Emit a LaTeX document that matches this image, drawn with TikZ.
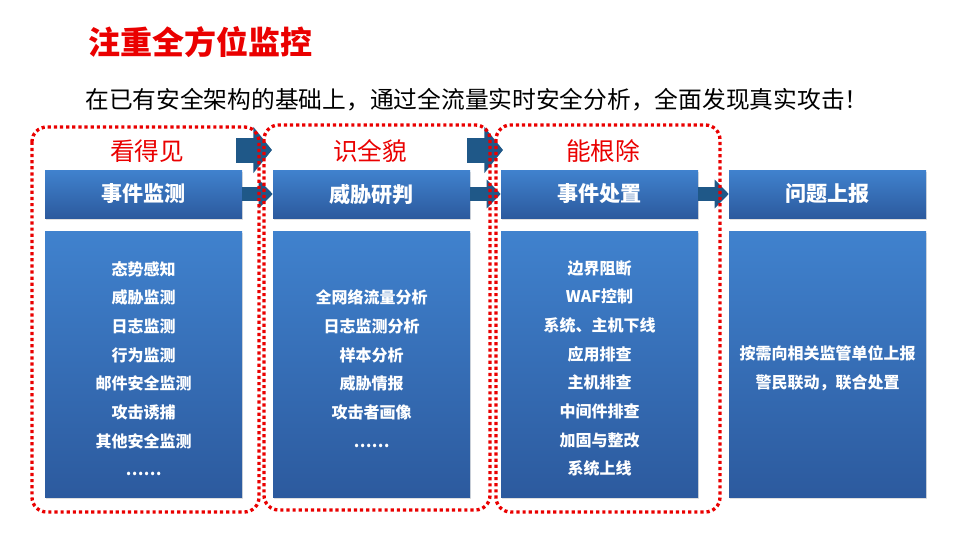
\documentclass[tikz,border=0pt]{standalone}
\usepackage{fontspec}
\newfontfamily\cjk{Noto Sans CJK SC}
\usetikzlibrary{arrows.meta,shadows}
\definecolor{hongse}{RGB}{234,0,0}
\definecolor{kuangding}{RGB}{64,130,206}
\definecolor{kuangdi}{RGB}{44,90,158}
\definecolor{jiantou}{RGB}{31,88,136}
\tikzset{
  biaotou/.style={top color=kuangding, bottom color=kuangdi, minimum width=147.75pt, minimum height=36pt,
    inner sep=0pt, text=white, font=\cjk\bfseries\fontsize{15.8}{18}\selectfont,
    drop shadow={opacity=0.25, shadow xshift=0.8pt, shadow yshift=-1.2pt}},
  neirong/.style={top color=kuangding, bottom color=kuangdi, minimum width=147.75pt, minimum height=199.5pt,
    inner sep=0pt, drop shadow={opacity=0.25, shadow xshift=0.8pt, shadow yshift=-1.2pt}},
  hangwen/.style={text=white, align=center, inner sep=0pt, font=\cjk\bfseries\fontsize{12}{21.5}\selectfont},
  jieduan/.style={text=hongse, inner sep=0pt, font=\cjk\fontsize{18.5}{20}\selectfont},
  xukuang/.style={draw=hongse, line width=2.5pt, dash pattern=on 2.4pt off 2.2pt, rounded corners=11pt},
  dajiantou/.style={draw=jiantou, line width=18.75pt, -{Triangle[length=14pt,width=34pt]}},
  xiaojiantou/.style={draw=jiantou, line width=11pt, -{Triangle[length=10.5pt,width=21pt]}}
}
\begin{document}
\begin{tikzpicture}[x=0.75pt, y=-0.75pt]
  \useasboundingbox[fill=white] (0,0) rectangle (960,540);

  % 标题与说明
  \node[anchor=west, inner sep=0pt, text=hongse, font=\cjk\bfseries\fontsize{24}{26}\selectfont] (biaoti) at (88,42) {注重全方位监控};
  \node[anchor=west, inner sep=0pt, font=\cjk\fontsize{17.8}{20}\selectfont] (shuoming) at (85,100)
    {在已有安全架构的基础上，通过全流量实时安全分析，全面发现真实攻击！};

  % 四个环节的标题框
  \node[biaotou] (h1) at (143.5,194) {事件监测};
  \node[biaotou] (h2) at (371.5,194) {威胁研判};
  \node[biaotou] (h3) at (599.5,194) {事件处置};
  \node[biaotou] (h4) at (827.5,194) {问题上报};

  % 内容框
  \node[neirong] (n1) at (143.5,364) {};
  \node[neirong] (n2) at (371.5,364) {};
  \node[neirong] (n3) at (599.5,364) {};
  \node[neirong] (n4) at (827.5,364) {};

  \node[hangwen] (t1) at (143.5,368.5) {态势感知\\威胁监测\\日志监测\\行为监测\\邮件安全监测\\攻击诱捕\\其他安全监测\\……};
  \node[hangwen] (t2) at (371.5,368.5) {全网络流量分析\\日志监测分析\\样本分析\\威胁情报\\攻击者画像\\……};
  \node[hangwen] (t3) at (599.5,368.5) {边界阻断\\WAF控制\\系统、主机下线\\应用排查\\主机排查\\中间件排查\\加固与整改\\系统上线};
  \node[hangwen] (t4) at (827.5,368.5) {按需向相关监管单位上报\\警民联动，联合处置};

  % 标题框之间的箭头
  \draw[xiaojiantou] (h1.east) -- (h2.west);
  \draw[xiaojiantou] (h2.east) -- (h3.west);
  \draw[xiaojiantou] (h3.east) -- (h4.west);

  % 阶段名称
  \node[jieduan] (k1) at (147,151) {看得见};
  \node[jieduan] (k2) at (370,151) {识全貌};
  \node[jieduan] (k3) at (603,151) {能根除};

  % 阶段之间的大箭头
  \coordinate (d1a) at (236,150);
  \coordinate (d1b) at (272,150);
  \coordinate (d2a) at (467,150);
  \coordinate (d2b) at (503,150);
  \draw[dajiantou] (d1a) -- (d1b);
  \draw[dajiantou] (d2a) -- (d2b);

  % 红色虚线框
  \draw[xukuang] (32,127) rectangle (259,512);
  \draw[xukuang] (264,125) rectangle (490,510);
  \draw[xukuang] (496,125) rectangle (720,512);
\end{tikzpicture}
\end{document}
